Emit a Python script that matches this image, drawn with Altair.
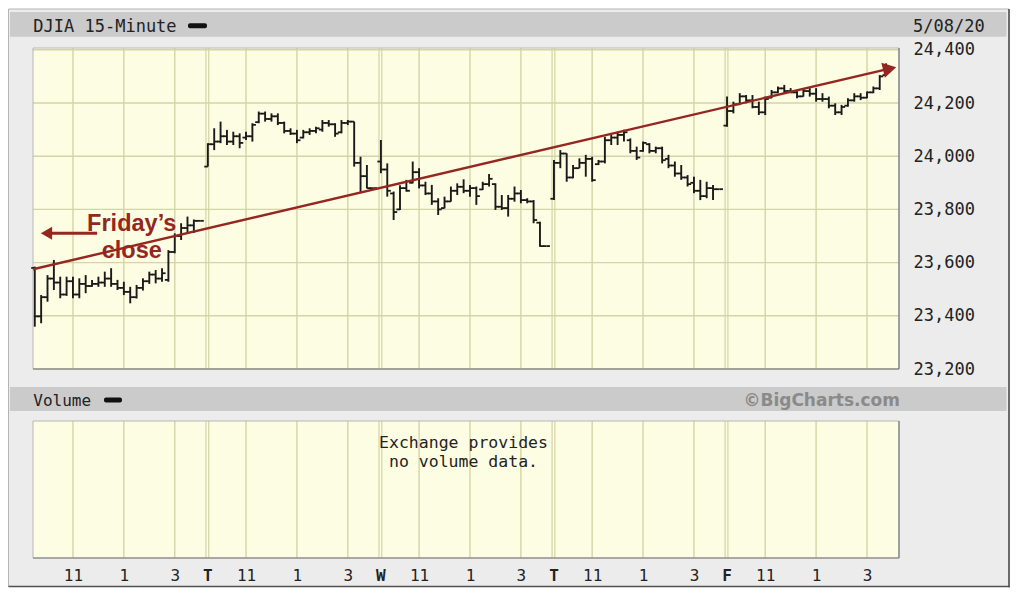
import json
import altair as alt
import pandas as pd

# ---------------- data ----------------
day_labels = ["M", "T", "W", "T", "F"]
bar_hours = 0.25          # 15-minute bars
day_span = 6.8            # hours occupied by one trading day on the axis

mon_open  = [23580,23398,23470,23540,23525,23480,23530,23480,23520,23512,23520,23525,23540,23520,23505,23490,23470,23505,23530,23555,23540,23535,23640,23700,23730,23740,23757]
mon_high  = [23585,23478,23553,23610,23547,23547,23547,23541,23553,23535,23547,23566,23579,23535,23528,23509,23516,23541,23566,23572,23579,23647,23710,23748,23773,23762,23757]
mon_low   = [23359,23372,23453,23497,23466,23475,23466,23466,23485,23509,23509,23509,23509,23497,23478,23447,23465,23495,23520,23522,23528,23528,23635,23685,23710,23712,23757]
mon_close = [23398,23470,23540,23525,23480,23530,23480,23520,23512,23520,23525,23540,23520,23505,23490,23470,23505,23530,23555,23540,23560,23640,23700,23730,23740,23757,23757]

tue_open  = [23961,24045,24055,24075,24055,24075,24070,24075,24128,24160,24140,24150,24125,24095,24085,24070,24090,24095,24100,24125,24120,24090,24125,24130,23975,23925,23880]
tue_high  = [24049,24105,24130,24099,24092,24086,24092,24124,24168,24168,24161,24161,24130,24105,24099,24099,24105,24111,24136,24136,24124,24136,24136,24130,23998,23967,23880]
tue_low   = [23961,24023,24049,24042,24042,24030,24061,24055,24124,24130,24130,24117,24086,24080,24049,24067,24080,24086,24092,24111,24073,24086,24117,23961,23866,23879,23880]
tue_close = [24045,24055,24075,24055,24075,24050,24075,24118,24160,24140,24150,24125,24095,24085,24060,24090,24095,24105,24125,24120,24085,24125,24130,23975,23925,23880,23880]

wed_open  = [23980,23950,23860,23800,23880,23900,23940,23890,23860,23830,23805,23830,23870,23885,23870,23880,23875,23895,23895,23810,23805,23840,23860,23835,23830,23750,23662]
wed_high  = [24061,23973,23867,23891,23911,23980,23955,23904,23892,23842,23848,23886,23898,23913,23892,23886,23904,23933,23898,23854,23854,23886,23873,23842,23835,23754,23662]
wed_low   = [23936,23848,23760,23798,23867,23898,23879,23854,23817,23779,23804,23829,23854,23861,23848,23817,23873,23886,23798,23798,23773,23829,23823,23823,23748,23660,23662]
wed_close = [23950,23870,23790,23880,23870,23940,23890,23860,23830,23800,23830,23870,23885,23870,23880,23850,23895,23915,23810,23805,23840,23860,23835,23830,23760,23662,23662]

thu_open  = [23840,23975,24010,23920,23955,23975,23990,23970,23980,24060,24070,24080,24060,24020,24020,24045,24020,24030,23990,23965,23935,23920,23900,23870,23850,23880,23876]
thu_high  = [23986,24023,24011,23967,23992,24005,23998,23986,24073,24080,24092,24099,24067,24036,24055,24049,24036,24036,24005,23980,23967,23929,23923,23911,23904,23892,23876]
thu_low   = [23835,23955,23904,23917,23955,23923,23904,23967,23973,24042,24042,24055,24011,23986,24017,24011,24011,23973,23955,23923,23911,23886,23861,23835,23842,23835,23876]
thu_close = [23975,24010,23920,23955,23975,23990,23910,23980,24060,24070,24080,24090,24020,23995,24050,24020,24030,23985,23965,23935,23920,23895,23870,23850,23880,23876,23876]

fri_open  = [24115,24170,24195,24225,24210,24185,24165,24220,24240,24255,24245,24240,24225,24245,24235,24215,24215,24190,24165,24190,24210,24225,24220,24240,24255,24305]
fri_high  = [24224,24205,24237,24230,24230,24205,24224,24249,24262,24268,24256,24249,24256,24256,24256,24237,24224,24199,24193,24218,24237,24237,24243,24262,24305,24349]
fri_low   = [24111,24161,24193,24199,24180,24155,24155,24218,24237,24237,24237,24218,24224,24224,24205,24205,24180,24155,24155,24186,24205,24211,24218,24237,24249,24305]
fri_close = [24170,24195,24225,24210,24185,24165,24215,24240,24255,24245,24240,24225,24245,24235,24215,24215,24190,24165,24185,24210,24225,24220,24240,24255,24300,24330]

price_ticks = [23200, 23400, 23600, 23800, 24000, 24200, 24400]
time_tick_hours = [1.5, 3.5, 5.5]          # 11am, 1pm, 3pm (hours after 9:30)
time_tick_labels = ["11", "1", "3"]

# trend line ("Friday's close" extended) and annotation
trend_t = [-0.07, 33.59]
trend_p = [23575, 24329]
trend_head_t = [33.59]
trend_head_p = [24329]
fri_arrow_t = [0.40, 2.45]
fri_arrow_p = [23710, 23710]
fri_head_t = [0.46]
fri_head_p = [23710]
fri_text_t = [3.81, 3.81]
fri_text_p = [23720, 23617]
fri_text = ["Friday\u2019s", "close"]

# ---------------- tables ----------------
days = [(mon_open, mon_high, mon_low, mon_close),
        (tue_open, tue_high, tue_low, tue_close),
        (wed_open, wed_high, wed_low, wed_close),
        (thu_open, thu_high, thu_low, thu_close),
        (fri_open, fri_high, fri_low, fri_close)]
rows = []
for d, (o, h, l, c) in enumerate(days):
    for k, (oo, hh, ll, cc) in enumerate(zip(o, h, l, c)):
        rows.append({"t": d * day_span + k * bar_hours, "o": oo, "h": hh, "l": ll, "c": cc})
bars = pd.DataFrame(rows)

tick_vals, tick_text, sep_vals = [], [], []
for d in range(len(day_labels)):
    if d > 0:
        v = round(d * day_span - 0.02, 2)
        tick_vals.append(v); tick_text.append(day_labels[d]); sep_vals.append(v)
    for hrs, lab in zip(time_tick_hours, time_tick_labels):
        v = round(d * day_span + hrs, 2)
        tick_vals.append(v); tick_text.append(lab)
hour_grid = pd.DataFrame({"t": [v for v in tick_vals if v not in sep_vals]})
sep_grid = pd.DataFrame({"t": sep_vals})
price_grid = pd.DataFrame({"p": price_ticks})
trend = pd.DataFrame({"t": trend_t, "p": trend_p})
trend_head = pd.DataFrame({"t": trend_head_t, "p": trend_head_p})
fri_arrow = pd.DataFrame({"t": fri_arrow_t, "p": fri_arrow_p})
fri_head = pd.DataFrame({"t": fri_head_t, "p": fri_head_p})
fri_lab = pd.DataFrame({"t": fri_text_t, "p": fri_text_p, "s": fri_text})
one = pd.DataFrame({"k": [0]})

# ---------------- style ----------------
W, H = 866, 321
VOL_TOP, VOL_BOT = 373, 510
MONO = "DejaVu Sans Mono"
PANEL = "#fdfde3"
GRID = "#d4d4a6"
FRAME = "#ececec"
BAR_HDR = "#cbcbcb"
INK = "#1a1a1a"
RED = "#952620"

X_SCALE = alt.Scale(domain=[-0.07, 33.957], nice=False, zero=False)
Y_SCALE = alt.Scale(domain=[23200, 24406.8], nice=False, zero=False)

label_expr = "{}[indexof({}, round(datum.value*100)/100)]".format(json.dumps(tick_text), json.dumps(tick_vals))
bold_test = "indexof({}, round(datum.value*100)/100) >= 0".format(json.dumps(sep_vals))

x_axis = alt.Axis(orient="bottom", values=tick_vals, labelExpr=label_expr, offset=VOL_BOT - H,
                  domain=False, ticks=False, tickSize=0, grid=False, labelPadding=9,
                  labelFont=MONO, labelFontSize=16, labelColor="#222",
                  labelFontWeight={"condition": {"test": bold_test, "value": "bold"}, "value": "normal"},
                  labelFlush=False, labelOverlap=False, labelBound=False, title=None, zindex=1)
y_axis = alt.Axis(orient="right", values=price_ticks, format=",d", domain=False, ticks=False,
                  tickSize=0, grid=False, labelPadding=14, labelFont=MONO, labelFontSize=17,
                  labelColor="#222", labelFlush=False, labelOverlap=False, labelBaseline="middle",
                  title=None, zindex=1)


def X(f):
    return alt.X(f, type="quantitative", scale=X_SCALE, axis=x_axis)


def Y(f):
    return alt.Y(f, type="quantitative", scale=Y_SCALE, axis=y_axis)


def box(x1, x2, y1, y2, **kw):
    return alt.Chart(one).mark_rect(**kw).encode(
        x=alt.value(x1), x2=alt.value(x2), y=alt.value(y1), y2=alt.value(y2))


def label(txt, x, y, **kw):
    return alt.Chart(one).mark_text(text=txt, **kw).encode(x=alt.value(x), y=alt.value(y))


layers = [
    # frame and header bars
    box(-24.5, 976, -39, 538.5, fill=FRAME, stroke="#b4b4b4", strokeWidth=1),
    alt.Chart(one).mark_rule(color="#505050", strokeWidth=1.6).encode(
        x=alt.value(976), y=alt.value(-39), y2=alt.value(539.3)),
    alt.Chart(one).mark_rule(color="#505050", strokeWidth=1.6).encode(
        x=alt.value(-24.5), x2=alt.value(976.8), y=alt.value(538.5)),
    box(-23, 973.5, -36, -11.3, fill=BAR_HDR),
    box(-23, 973.5, 339, 363, fill=BAR_HDR),
    # panels
    box(0, W, 0, H, fill=PANEL),
    box(0, W, VOL_TOP, VOL_BOT, fill=PANEL),
]

# grid lines
for y1, y2 in [(0, H), (VOL_TOP, VOL_BOT)]:
    layers.append(alt.Chart(hour_grid).mark_rule(color=GRID, strokeWidth=1.4).encode(
        x=X("t"), y=alt.value(y1), y2=alt.value(y2)))
    for off in (-1.4, 1.4):
        layers.append(alt.Chart(sep_grid).mark_rule(color=GRID, strokeWidth=1.2, xOffset=off).encode(
            x=X("t"), y=alt.value(y1), y2=alt.value(y2)))
layers.append(alt.Chart(price_grid).mark_rule(color=GRID, strokeWidth=1.4).encode(
    y=Y("p"), x=alt.value(0), x2=alt.value(W)))

# panel borders
for y1, y2 in [(0, H), (VOL_TOP, VOL_BOT)]:
    layers.append(box(0, W, y1, y2, fillOpacity=0, stroke="#b8b8b8", strokeWidth=1))
    layers.append(alt.Chart(one).mark_rule(color="#7a7a7a", strokeWidth=1.2).encode(
        x=alt.value(W), y=alt.value(y1), y2=alt.value(y2)))
    layers.append(alt.Chart(one).mark_rule(color="#7a7a7a", strokeWidth=1.2).encode(
        x=alt.value(0), x2=alt.value(W), y=alt.value(y2)))

# OHLC bars
base = alt.Chart(bars).transform_calculate(tl="datum.t - 0.14", tr="datum.t + 0.14")
layers += [
    base.mark_rule(color=INK, strokeWidth=1.9).encode(x=X("t"), y=Y("l"), y2=alt.Y2("h")),
    base.mark_rule(color=INK, strokeWidth=1.8).encode(x=X("tl"), x2=alt.X2("t"), y=Y("o")),
    base.mark_rule(color=INK, strokeWidth=1.8).encode(x=X("t"), x2=alt.X2("tr"), y=Y("c")),
]

# trend line and annotation
layers += [
    alt.Chart(trend).mark_line(color=RED, strokeWidth=2.4).encode(x=X("t"), y=Y("p")),
    alt.Chart(trend_head).mark_point(shape="triangle-right", filled=True, size=240, angle=347,
                                     color=RED, opacity=1).encode(x=X("t"), y=Y("p")),
    alt.Chart(fri_arrow).mark_line(color=RED, strokeWidth=3).encode(x=X("t"), y=Y("p")),
    alt.Chart(fri_head).mark_point(shape="triangle-left", filled=True, size=170,
                                   color=RED, opacity=1).encode(x=X("t"), y=Y("p")),
    alt.Chart(fri_lab).mark_text(font="Liberation Sans", fontWeight="bold", fontSize=23.5, color=RED,
                                 align="center", baseline="alphabetic").encode(
        x=X("t"), y=Y("p"), text="s:N"),
]

# header texts
layers += [
    label("DJIA 15-Minute", 0.3, -16.5, font=MONO, fontSize=17, color="#222", align="left",
          baseline="alphabetic"),
    box(155, 174, -24.7, -19.7, fill="#111", cornerRadius=2),
    label("5/08/20", 880, -16.5, font=MONO, fontSize=17, color="#222", align="left",
          baseline="alphabetic"),
    label("Volume", 0.3, 357.5, font=MONO, fontSize=16, color="#222", align="left",
          baseline="alphabetic"),
    box(71, 89, 349.5, 354.5, fill="#111", cornerRadius=2),
    label("\u00a9BigCharts.com", 867, 357.5, font="DejaVu Sans", fontWeight="bold", fontSize=17,
          color="#8a8a8a", align="right", baseline="alphabetic"),
    label("Exchange provides", 430.5, 400, font=MONO, fontSize=16.5, color="#222", align="center",
          baseline="alphabetic"),
    label("no volume data.", 430.5, 419, font=MONO, fontSize=16.5, color="#222", align="center",
          baseline="alphabetic"),
]

chart = alt.layer(*layers).properties(
    width=W, height=H,
    padding={"left": 25, "top": 40, "right": 111, "bottom": 219},
    autosize=alt.AutoSizeParams(type="none"),
).configure(background="#ffffff").configure_view(stroke=None)

chart.save("out.html", embed_options={"renderer": "svg", "actions": False})
